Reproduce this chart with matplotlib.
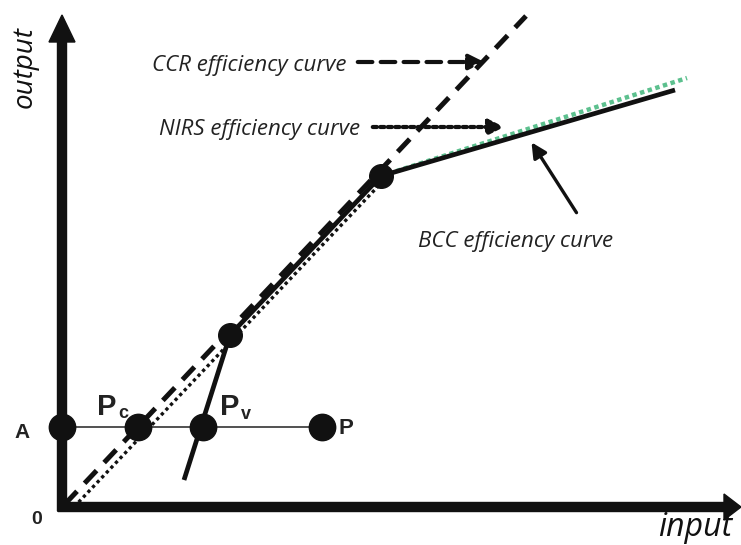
import numpy as np
import matplotlib.pyplot as plt

# schematic DEA frontiers, units: input / output (origin at axis corner)
dot_x = [0, 76, 141, 260]      # A, Pc, Pv, P
dot_y = [80, 80, 80, 80]
kink_x = [168, 319]            # efficient DMUs on the frontier
kink_y = [172, 331]

ccr_x = [3, 464]
ccr_y = [3, 491]
nirs_low_x = [12, 322]
nirs_low_y = [0, 327]
nirs_up_x = [319, 625]
nirs_up_y = [331, 429]
bcc_x = [122, 168, 319, 613]
bcc_y = [27, 172, 331, 417]

fig = plt.figure(figsize=(7.41, 5.45), dpi=100)
ax = fig.add_axes([0, 0, 1, 1])
ax.set_xlim(-62, 679)
ax.set_ylim(-38, 507)
ax.axis('off')

# axes with arrow heads
ax.arrow(0, -4, 0, 496, width=9, head_width=26, head_length=27,
         length_includes_head=True, color='#111111', zorder=5)
ax.arrow(-4, 0, 683, 0, width=9, head_width=26, head_length=17,
         length_includes_head=True, color='#111111', zorder=5)

# horizontal line A -> P
ax.plot([dot_x[0], dot_x[-1]], [dot_y[0], dot_y[-1]], color='#333333', lw=1.2, zorder=2)

# CCR (dashed)
ax.plot(ccr_x, ccr_y, color='#111111', lw=3.6, linestyle=(0, (3.5, 2.2)), zorder=3)
# NIRS (dotted)
ax.plot(nirs_low_x, nirs_low_y, color='#111111', lw=2.4, linestyle=(0, (1, 1)), zorder=3)
ax.plot(nirs_up_x, nirs_up_y, color='#5cc08e', lw=3.2, linestyle=(0, (1, 0.8)), zorder=3)
# BCC (solid)
ax.plot(bcc_x, bcc_y, color='#111111', lw=3.4, solid_capstyle='butt', zorder=4)

ax.plot(dot_x, dot_y, 'o', color='#111111', ms=19, zorder=6)
ax.plot(kink_x, kink_y, 'o', color='#111111', ms=17, zorder=6)

# label arrows
ax.annotate('', xy=(425, 445), xytext=(293, 445),
            arrowprops=dict(arrowstyle='-|>,head_length=0.9,head_width=0.45',
                            lw=3, linestyle=(0, (3.5, 2)), color='#111111'))
ax.annotate('', xy=(445, 380), xytext=(308, 380),
            arrowprops=dict(arrowstyle='-|>,head_length=0.9,head_width=0.45',
                            lw=3, linestyle=(0, (1, 0.8)), color='#111111'))
ax.annotate('', xy=(468, 367), xytext=(516, 292),
            arrowprops=dict(arrowstyle='-|>,head_length=0.9,head_width=0.45',
                            lw=2.4, color='#111111'))

lab = dict(family='Open Sans', style='italic', fontsize=16, color='#222222', va='center')
ax.text(285, 441, 'CCR efficiency curve', ha='right', **lab)
ax.text(298, 378, 'NIRS efficiency curve', ha='right', **lab)
ax.text(454, 265, 'BCC efficiency curve', ha='center', **lab)

ax.text(-37, 440, 'output', family='Open Sans', style='italic', fontsize=20,
        rotation=90, ha='center', va='center', color='#111111')
ax.text(633, -21, 'input', family='Open Sans', style='italic', fontsize=23,
        ha='center', va='center', color='#111111')

bold = dict(family='Liberation Sans', weight='bold', color='#222222')
ax.text(-25, -13, '0', fontsize=14, ha='center', va='center', **bold)
ax.text(-40, 75, 'A', fontsize=15, ha='center', va='center', **bold)
ax.text(35, 92, 'P', fontsize=21, ha='left', va='baseline', **bold)
ax.text(56, 89, 'c', fontsize=13, ha='left', va='baseline', **bold)
ax.text(158, 92, 'P', fontsize=21, ha='left', va='baseline', **bold)
ax.text(179, 88, 'v', fontsize=13, ha='left', va='baseline', **bold)
ax.text(276, 79, 'P', fontsize=16, ha='left', va='center', **bold)

fig.savefig('out.png', dpi=100)
